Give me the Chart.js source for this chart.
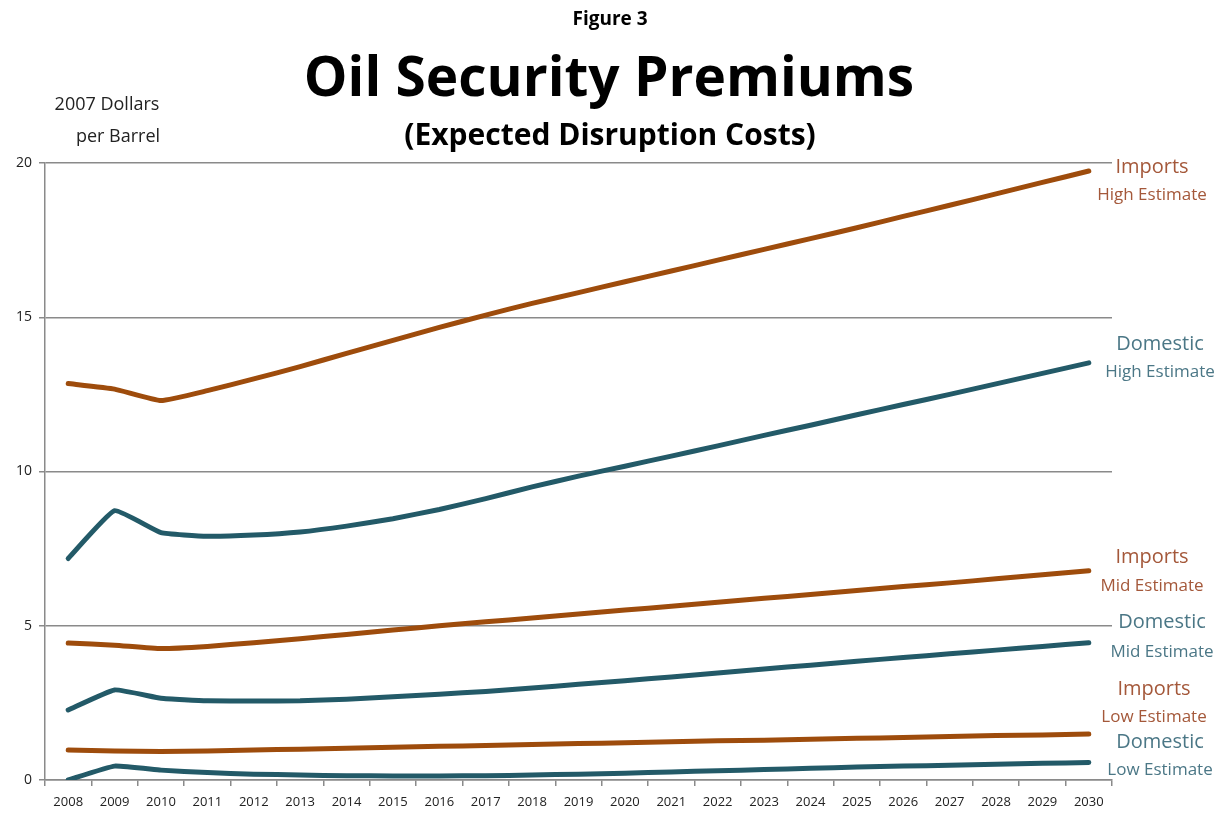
<!DOCTYPE html>
<html>
<head>
<meta charset="utf-8">
<script src="https://cdn.jsdelivr.net/npm/chart.js@4"></script>
<style>
  html, body { margin: 0; padding: 0; background: #fff; }
  #wrap { width: 1231px; height: 822px; }
</style>
</head>
<body>
<div id="wrap"><canvas id="chart"></canvas></div>
<script>
const years = [
  "2008", "2009", "2010", "2011", "2012", "2013", "2014", "2015", "2016", "2017", "2018", "2019",
  "2020", "2021", "2022", "2023", "2024", "2025", "2026", "2027", "2028", "2029", "2030",
];

// $ per barrel
const importsHigh = [
  12.85, 12.67, 12.3, 12.62, 13.0, 13.4, 13.83, 14.25, 14.67, 15.07, 15.45, 15.8,
  16.15, 16.5, 16.85, 17.2, 17.55, 17.9, 18.27, 18.63, 19.0, 19.37, 19.74,
];
const domesticHigh = [
  7.18, 8.73, 8.02, 7.9, 7.94, 8.04, 8.23, 8.47, 8.77, 9.12, 9.5, 9.85,
  10.17, 10.5, 10.83, 11.17, 11.5, 11.84, 12.17, 12.5, 12.84, 13.18, 13.52,
];
const importsMid = [
  4.44, 4.37, 4.26, 4.33, 4.45, 4.58, 4.72, 4.86, 5.0, 5.13, 5.25, 5.38,
  5.51, 5.63, 5.76, 5.89, 6.01, 6.14, 6.27, 6.39, 6.52, 6.65, 6.78,
];
const domesticMid = [
  2.27, 2.92, 2.65, 2.57, 2.56, 2.57, 2.62, 2.7, 2.78, 2.87, 2.98, 3.1,
  3.22, 3.34, 3.47, 3.6, 3.72, 3.85, 3.97, 4.09, 4.21, 4.33, 4.45,
];
const importsLow = [
  0.97, 0.94, 0.92, 0.94, 0.97, 1.0, 1.03, 1.06, 1.09, 1.12, 1.15, 1.18,
  1.21, 1.24, 1.27, 1.29, 1.32, 1.35, 1.38, 1.41, 1.44, 1.46, 1.49,
];
const domesticLow = [
  0.0, 0.45, 0.32, 0.24, 0.19, 0.16, 0.14, 0.13, 0.13, 0.14, 0.16, 0.19,
  0.22, 0.26, 0.3, 0.34, 0.38, 0.42, 0.45, 0.48, 0.51, 0.54, 0.57,
];

const yTicks = [0, 5, 10, 15, 20];

const ORANGE = "#9e4c0c";
const TEAL = "#235a68";
const ORANGE_TXT = "#a4583a";
const TEAL_TXT = "#4b7786";
const FONT = "'Open Sans', 'Liberation Sans', sans-serif";

// name / subtitle shown at the right end of each line
// dy values shift the two text lines relative to the last point
const series = [
  { data: importsHigh, color: ORANGE, name: "Imports", sub: "High Estimate", txt: ORANGE_TXT, dx: 40, dy: [-4, 24] },
  { data: domesticHigh, color: TEAL, name: "Domestic", sub: "High Estimate", txt: TEAL_TXT, dx: 48, dy: [-19, 9] },
  { data: importsMid, color: ORANGE, name: "Imports", sub: "Mid Estimate", txt: ORANGE_TXT, dx: 40, dy: [-14, 15] },
  { data: domesticMid, color: TEAL, name: "Domestic", sub: "Mid Estimate", txt: TEAL_TXT, dx: 50, dy: [-20, 9] },
  { data: importsLow, color: ORANGE, name: "Imports", sub: "Low Estimate", txt: ORANGE_TXT, dx: 42, dy: [-45, -17] },
  { data: domesticLow, color: TEAL, name: "Domestic", sub: "Low Estimate", txt: TEAL_TXT, dx: 48, dy: [-20, 8] },
];

const headerPlugin = {
  id: "header",
  afterDraw(chart) {
    const ctx = chart.ctx;
    ctx.save();
    ctx.fillStyle = "#000";
    ctx.textAlign = "center";
    ctx.textBaseline = "middle";
    ctx.font = "bold 19px " + FONT;
    ctx.fillText("Figure 3", 610, 20);
    ctx.font = "bold 55px " + FONT;
    ctx.fillText("Oil Security Premiums", 609, 80);
    ctx.font = "bold 30px " + FONT;
    ctx.fillText("(Expected Disruption Costs)", 610, 136);
    ctx.font = "18px " + FONT;
    ctx.fillStyle = "#222";
    ctx.fillText("2007 Dollars", 107, 105);
    ctx.fillText("per Barrel", 118, 137);
    ctx.restore();
  },
};

const endLabelPlugin = {
  id: "endLabels",
  afterDatasetsDraw(chart) {
    const ctx = chart.ctx;
    const area = chart.chartArea;
    ctx.save();
    ctx.textAlign = "center";
    ctx.textBaseline = "middle";
    series.forEach((s, i) => {
      const meta = chart.getDatasetMeta(i);
      const last = meta.data[meta.data.length - 1];
      const x = area.right + s.dx;
      ctx.fillStyle = s.txt;
      ctx.font = "20px " + FONT;
      ctx.fillText(s.name, x, last.y + s.dy[0]);
      ctx.font = "17px " + FONT;
      ctx.fillText(s.sub, x, last.y + s.dy[1]);
    });
    ctx.restore();
  },
};

new Chart(document.getElementById("chart"), {
  type: "line",
  data: {
    labels: years,
    datasets: series.map((s) => ({
      data: s.data,
      borderColor: s.color,
      borderWidth: 5,
      borderCapStyle: "round",
      pointRadius: 0,
      tension: 0.12,
      fill: false,
    })),
  },
  options: {
    responsive: true,
    maintainAspectRatio: false,
    animation: false,
    layout: { padding: { top: 163, right: 119, left: 0, bottom: 0 } },
    plugins: {
      legend: { display: false },
      tooltip: { enabled: false },
    },
    scales: {
      x: {
        offset: true,
        grid: {
          offset: true,
          drawOnChartArea: false,
          color: "#8a8a8a",
          tickLength: 6,
          lineWidth: 1.5,
        },
        border: { color: "#8a8a8a", width: 1.5 },
        ticks: {
          color: "#222",
          font: { family: FONT, size: 13 },
          padding: 8,
          maxRotation: 0,
          autoSkip: false,
        },
        afterFit(scale) { scale.height = 42; },
      },
      y: {
        min: 0,
        max: 20,
        afterBuildTicks(scale) { scale.ticks = yTicks.map((v) => ({ value: v })); },
        grid: { color: "#8a8a8a", lineWidth: 1.5, tickLength: 6 },
        border: { color: "#8a8a8a", width: 1.5 },
        ticks: {
          color: "#222",
          font: { family: FONT, size: 14 },
          padding: 7,
        },
        afterFit(scale) { scale.width = 45; },
      },
    },
  },
  plugins: [headerPlugin, endLabelPlugin],
});
</script>
</body>
</html>
